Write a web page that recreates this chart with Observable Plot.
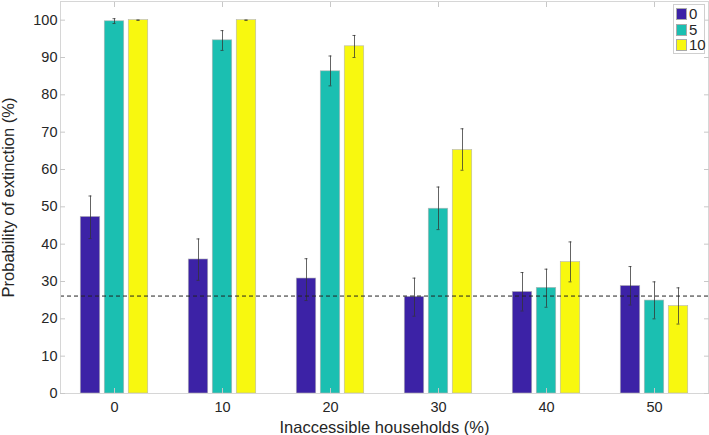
<!DOCTYPE html>
<html>
<head>
<meta charset="utf-8">
<script src="https://cdn.jsdelivr.net/npm/d3@7"></script>
<script src="https://cdn.jsdelivr.net/npm/@observablehq/plot@0.6"></script>
<style>
  html, body { margin: 0; padding: 0; background: #fff; }
  #wrap { position: relative; width: 709px; height: 435px; font-family: "Liberation Sans", Arial, sans-serif; }
  #legend { position: absolute; left: 673px; top: 4px; width: 30px; height: 48px; border: 1px solid #cfcfcf; background: #fff; font-size: 15px; color: #262626; }
  .item { position: absolute; left: 2px; height: 14px; line-height: 14px; }
  .sw { position: absolute; left: 0; top: 1px; width: 11px; height: 12px; box-sizing: border-box; border: 0.5px solid #aaa; }
  .lab { position: absolute; left: 13px; top: 0; }
</style>
</head>
<body>
<div id="wrap"></div>
<script>
const categories = [0, 10, 20, 30, 40, 50];
const seriesNames = ["0", "5", "10"];
const seriesColors = ["#3c22a6", "#1bbfb1", "#f8f80f"];
const values0 = [47.3, 35.9, 30.8, 25.9, 27.2, 28.8];
const low0    = [41.5, 30.3, 24.9, 20.7, 22.1, 23.7];
const high0   = [52.9, 41.4, 36.1, 30.9, 32.4, 34.0];
const values5 = [99.7, 94.6, 86.3, 49.5, 28.3, 24.9];
const low5    = [99.1, 91.9, 82.4, 43.9, 23.1, 20.0];
const high5   = [100.4, 97.2, 90.4, 55.3, 33.3, 29.9];
const values10 = [100, 100, 93.0, 65.2, 35.2, 23.4];
const low10    = [100, 100, 90.0, 59.8, 29.9, 18.6];
const high10   = [100, 100, 95.9, 70.9, 40.6, 28.3];
const baseline = 26.1;
const yTicks = [0, 10, 20, 30, 40, 50, 60, 70, 80, 90, 100];

const seriesValues = [values0, values5, values10];
const seriesLow = [low0, low5, low10];
const seriesHigh = [high0, high5, high10];

const step = 24;      // spacing between bars within a group (px)
const barW = 19.5;    // bar width (px)
const band = 108;
const inset = (band - barW) / 2;
const capInset = (band - 3) / 2;

const marks = [];
seriesNames.forEach((name, i) => {
  const rows = categories.map((c, j) => ({
    cat: c, v: seriesValues[i][j], lo: seriesLow[i][j], hi: seriesHigh[i][j]
  }));
  marks.push(Plot.barY(rows, {
    x: "cat", y: "v", dx: (i - 1) * step, insetLeft: inset, insetRight: inset,
    fill: seriesColors[i], stroke: "#b5b5b5", strokeWidth: 0.6
  }));
  marks.push(Plot.ruleX(rows, {
    x: "cat", y1: "lo", y2: "hi", dx: (i - 1) * step, stroke: "#333", strokeWidth: 0.9, strokeOpacity: 0.85
  }));
  marks.push(Plot.tickY(rows, {
    x: "cat", y: "lo", dx: (i - 1) * step, insetLeft: capInset, insetRight: capInset, stroke: "#333", strokeWidth: 0.9, strokeOpacity: 0.85
  }));
  marks.push(Plot.tickY(rows, {
    x: "cat", y: "hi", dx: (i - 1) * step, insetLeft: capInset, insetRight: capInset, stroke: "#333", strokeWidth: 0.9, strokeOpacity: 0.85
  }));
});

const chart = Plot.plot({
  width: 709,
  height: 435,
  marginLeft: 60,
  marginRight: 1,
  marginTop: 1,
  marginBottom: 42,
  style: { fontFamily: "Liberation Sans, Arial, sans-serif", fontSize: "14px", color: "#262626", background: "#fff" },
  x: { domain: categories, padding: 0, axis: null },
  y: { domain: [0, 105], axis: null },
  marks: [
    ...marks,
    Plot.ruleY([baseline], { stroke: "#222", strokeWidth: 1, strokeDasharray: "4,3" }),
    Plot.frame({ stroke: "#d6d6d6", strokeWidth: 1 }),
    // tick labels
    Plot.axisY({ ticks: yTicks, tickSize: 0, tickPadding: 3, label: "Probability of extinction (%)", labelAnchor: "center", labelArrow: "none", labelOffset: 58 }),
    Plot.axisX({ tickSize: 0, tickPadding: 8, label: "Inaccessible households (%)", labelAnchor: "center", labelArrow: "none", labelOffset: 39 }),
    // inward ticks
    Plot.axisY({ anchor: "left", ticks: yTicks, tickSize: -5, tickFormat: () => "", label: null, stroke: "#c8c8c8" }),
    Plot.axisY({ anchor: "right", ticks: yTicks, tickSize: -5, tickFormat: () => "", label: null, stroke: "#c8c8c8" }),
    Plot.axisX({ anchor: "bottom", tickSize: -5, tickFormat: () => "", label: null, stroke: "#c8c8c8" }),
    Plot.axisX({ anchor: "top", tickSize: -5, tickFormat: () => "", label: null, stroke: "#c8c8c8" })
  ]
});

// font sizes
chart.querySelectorAll("g[aria-label='y-axis tick label'], g[aria-label='x-axis tick label']").forEach(g => {
  g.setAttribute("font-size", "14.5");
  g.querySelectorAll("text").forEach(t => t.setAttribute("font-size", "14.5"));
});
chart.querySelectorAll("g[aria-label='y-axis label'], g[aria-label='x-axis label']").forEach(g => {
  g.setAttribute("font-size", "16.5");
  g.querySelectorAll("text").forEach(t => t.setAttribute("font-size", "16.5"));
});

const wrap = document.getElementById("wrap");
wrap.appendChild(chart);

const legend = document.createElement("div");
legend.id = "legend";
seriesNames.forEach((name, i) => {
  const item = document.createElement("div");
  item.className = "item";
  item.style.top = (2 + i * 15.5) + "px";
  const sw = document.createElement("span");
  sw.className = "sw";
  sw.style.background = seriesColors[i];
  const lab = document.createElement("span");
  lab.className = "lab";
  lab.textContent = name;
  item.appendChild(sw);
  item.appendChild(lab);
  legend.appendChild(item);
});
wrap.appendChild(legend);
</script>
</body>
</html>
